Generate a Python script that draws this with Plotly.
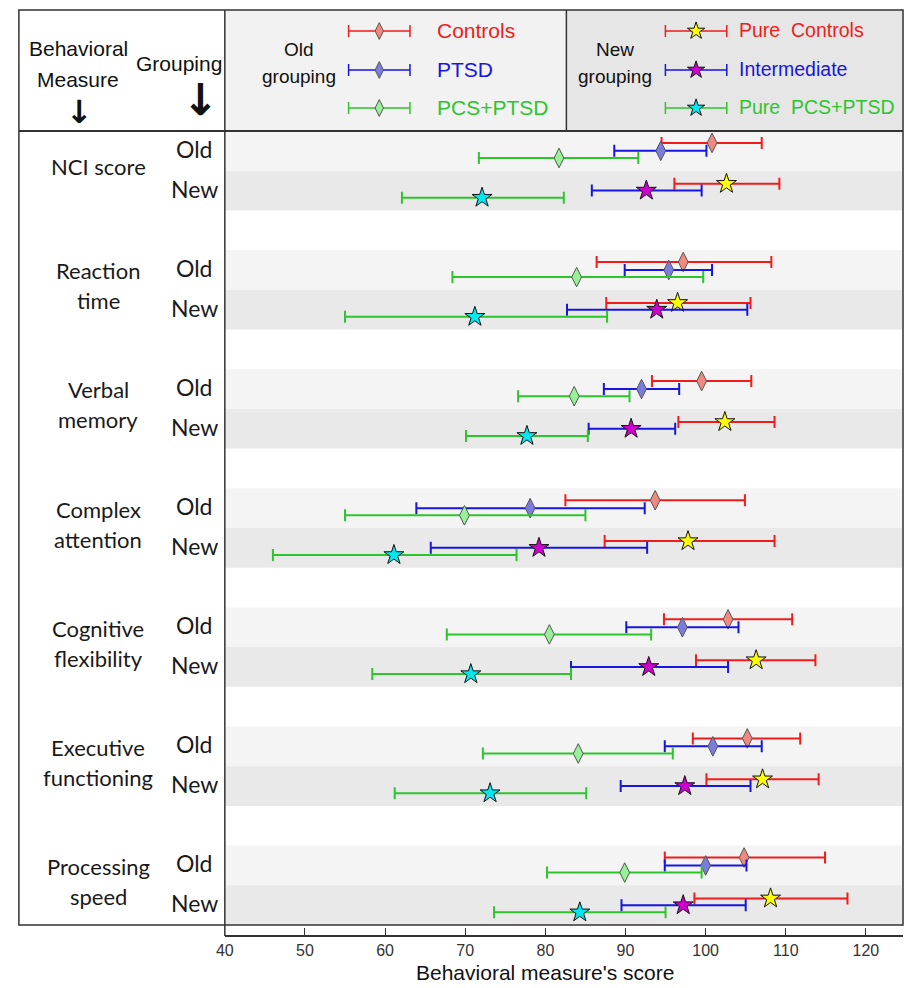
import plotly.graph_objects as go

W, H = 904, 988

# ---------------- data ----------------
measures = ["NCI score", "Reaction<br>time", "Verbal<br>memory", "Complex<br>attention",
            "Cognitive<br>flexibility", "Executive<br>functioning", "Processing<br>speed"]
groupings = ["Old", "New"]
tick_vals = [40, 50, 60, 70, 80, 90, 100, 110, 120]

controls_mean = [100.8, 97.2, 99.5, 93.7, 102.8, 105.2, 104.8]
controls_lo   = [94.5, 86.4, 93.3, 82.5, 94.8, 98.4, 94.9]
controls_hi   = [107.0, 108.2, 105.7, 104.9, 110.8, 111.8, 114.9]

ptsd_mean = [94.4, 95.4, 92.0, 78.1, 97.1, 100.9, 100.0]
ptsd_lo   = [88.6, 89.9, 87.3, 63.9, 90.1, 94.9, 94.9]
ptsd_hi   = [100.1, 100.8, 96.7, 92.4, 104.1, 107.0, 105.1]

pcs_mean = [81.7, 83.9, 83.6, 69.9, 80.5, 84.1, 89.9]
pcs_lo   = [71.7, 68.4, 76.6, 55.0, 67.7, 72.2, 80.2]
pcs_hi   = [91.6, 99.7, 90.5, 85.0, 93.2, 95.9, 99.5]

pure_controls_mean = [102.6, 96.5, 102.4, 97.8, 106.3, 107.1, 108.1]
pure_controls_lo   = [96.1, 87.6, 96.6, 87.4, 98.8, 100.1, 98.6]
pure_controls_hi   = [109.2, 105.6, 108.6, 108.6, 113.7, 114.1, 117.7]

intermediate_mean = [92.6, 93.9, 90.7, 79.2, 92.9, 97.4, 97.2]
intermediate_lo   = [85.8, 82.7, 85.4, 65.7, 83.2, 89.4, 89.5]
intermediate_hi   = [99.5, 105.2, 96.2, 92.7, 102.8, 105.6, 105.0]

pure_pcs_mean = [72.1, 71.2, 77.7, 61.1, 70.7, 73.1, 84.3]
pure_pcs_lo   = [62.1, 55.0, 70.1, 46.0, 58.4, 61.2, 73.6]
pure_pcs_hi   = [82.3, 87.7, 85.3, 76.4, 83.2, 85.1, 95.0]

# ---------------- styles ----------------
RED, BLUE, GREEN = "#f01c1c", "#1616e0", "#2ec42e"
series = [
    # name, mean, lo, hi, band(0 old / 1 new), offset, line colour, symbol, fill, outline
    ("Controls", controls_mean, controls_lo, controls_hi, 0, -0.2, RED, "diamond-tall", "#f08a80", "#555555"),
    ("PTSD", ptsd_mean, ptsd_lo, ptsd_hi, 0, 0.0, BLUE, "diamond-tall", "#7c7cdc", "#555555"),
    ("PCS+PTSD", pcs_mean, pcs_lo, pcs_hi, 0, 0.18, GREEN, "diamond-tall", "#98f098", "#555555"),
    ("Pure  Controls", pure_controls_mean, pure_controls_lo, pure_controls_hi, 1, -0.17, RED, "star", "#ffff00", "#111111"),
    ("Intermediate", intermediate_mean, intermediate_lo, intermediate_hi, 1, 0.0, BLUE, "star", "#d000d0", "#111111"),
    ("Pure  PCS+PTSD", pure_pcs_mean, pure_pcs_lo, pure_pcs_hi, 1, 0.18, GREEN, "star", "#00e8f0", "#111111"),
]


def px(x):
    return x / W


def py(y):
    return 1 - y / H


PLOT_L, PLOT_R, PLOT_T, PLOT_B = 218, 903, 131, 925
AXIS_Y = 936
n = len(measures)

fig = go.Figure()

for name, m, lo, hi, band, off, col, sym, fill, edge in series:
    ys = [3 * i + band + off for i in range(n)]
    fig.add_trace(go.Scatter(
        x=m, y=ys, mode="markers", name=name, showlegend=False, hoverinfo="skip",
        marker=dict(symbol=sym, size=15 if sym == "star" else 14, color=fill,
                    line=dict(color=edge, width=1)),
        error_x=dict(type="data", symmetric=False,
                     array=[h - c for h, c in zip(hi, m)],
                     arrayminus=[c - l for c, l in zip(m, lo)],
                     color=col, thickness=2, width=6),
    ))

# header legend samples on a pixel axis
leg_rows = [31, 70, 108]
for k, (name, m, lo, hi, band, off, col, sym, fill, edge) in enumerate(series):
    cx = 374 if band == 0 else 694
    fig.add_trace(go.Scatter(
        x=[cx], y=[leg_rows[k % 3]], xaxis="x2", yaxis="y2", mode="markers",
        showlegend=False, hoverinfo="skip",
        marker=dict(symbol=sym, size=13 if sym == "star" else 12, color=fill,
                    line=dict(color=edge, width=1)),
        error_x=dict(type="constant", value=31, color=col, thickness=1.5, width=6),
    ))

shapes = []
# bands
for i in range(n):
    for b, fc in ((0, "#f4f4f4"), (1, "#e9e9e9")):
        shapes.append(dict(type="rect", xref="paper", yref="y", x0=px(PLOT_L), x1=px(PLOT_R),
                           y0=3 * i + b - 0.5, y1=3 * i + b + 0.5, fillcolor=fc,
                           line=dict(width=0), layer="below"))
# header backgrounds
shapes.append(dict(type="rect", xref="paper", yref="paper", x0=px(PLOT_L), x1=px(563),
                   y0=py(131), y1=py(10), fillcolor="#f2f2f2", line=dict(width=0), layer="below"))
shapes.append(dict(type="rect", xref="paper", yref="paper", x0=px(563), x1=px(PLOT_R),
                   y0=py(131), y1=py(10), fillcolor="#e6e6e6", line=dict(width=0), layer="below"))
# frame lines
LC = "#333333"
shapes.append(dict(type="rect", xref="paper", yref="paper", x0=px(10), x1=px(PLOT_R),
                   y0=py(PLOT_B), y1=py(10), line=dict(color=LC, width=1.5)))
shapes.append(dict(type="line", xref="paper", yref="paper", x0=px(10), x1=px(PLOT_R),
                   y0=py(131), y1=py(131), line=dict(color=LC, width=2)))
shapes.append(dict(type="line", xref="paper", yref="paper", x0=px(PLOT_L), x1=px(PLOT_L),
                   y0=py(AXIS_Y), y1=py(10), line=dict(color=LC, width=1.5)))
shapes.append(dict(type="line", xref="paper", yref="paper", x0=px(563), x1=px(563),
                   y0=py(131), y1=py(10), line=dict(color=LC, width=1.5)))

ann = []
LEFT_FONT = "Lato, Carlito, Noto Sans, sans-serif"
HEAD_FONT = "Liberation Sans, Arial, sans-serif"
# measure labels
for i, lab in enumerate(measures):
    lines = lab.split("<br>")
    yc = 131 + (3 * i + 1) * 39.7 - 4
    if len(lines) == 1:
        pos = [yc]
    else:
        pos = [yc - 15, yc + 15]
    for t, yy in zip(lines, pos):
        ann.append(dict(text=t, x=px(90), y=py(yy), xref="paper", yref="paper",
                        showarrow=False, xanchor="center", yanchor="middle",
                        font=dict(family=LEFT_FONT, size=22, color="#1a1a1a")))
    for b, g in enumerate(groupings):
        ann.append(dict(text=g, x=px(187), y=py(131 + (3 * i + b + 0.5) * 39.7 - 2),
                        xref="paper", yref="paper", showarrow=False, xanchor="center",
                        yanchor="middle", font=dict(family=LEFT_FONT, size=23, color="#1a1a1a")))

# header texts
def head(text, x, y, size=17, color="#111111", anchor="center", family=HEAD_FONT):
    ann.append(dict(text=text, x=px(x), y=py(y), xref="paper", yref="paper", showarrow=False,
                    xanchor=anchor, yanchor="middle", font=dict(family=family, size=size, color=color)))

head("Behavioral", 70, 48, size=21)
head("Measure", 70, 80, size=21)
head("<b>↓</b>", 71, 112, size=32, family="DejaVu Sans")
head("Grouping", 172, 64, size=21)
head("<b>↓</b>", 193, 100, size=44, family="DejaVu Sans")
head("Old", 293, 50, size=19)
head("grouping", 293, 77, size=19)
head("New", 612, 50, size=19)
head("grouping", 612, 77, size=19)
for k, (name, m, lo, hi, band, off, col, sym, fill, edge) in enumerate(series):
    head(name.replace("  ", "&nbsp; "), 430 if band == 0 else 735, leg_rows[k % 3] - 1,
         size=21 if band == 0 else 19.5, color=col, anchor="left")

# axis title
head("Behavioral measure's score", 541, 972, size=21, color="#111111")

fig.update_layout(
    width=W, height=H, margin=dict(l=0, r=0, t=0, b=0),
    paper_bgcolor="white", plot_bgcolor="rgba(0,0,0,0)",
    xaxis=dict(domain=[px(PLOT_L), px(PLOT_R)], range=[40, 40 + (PLOT_R - PLOT_L) / 8.094],
               tickvals=tick_vals, ticks="inside", ticklen=7, tickcolor="#333333",
               showline=True, linecolor="#333333", linewidth=1.5,
               anchor="free", position=py(AXIS_Y), showgrid=False, zeroline=False,
               tickfont=dict(family="Liberation Sans Narrow, Liberation Sans, sans-serif",
                             size=16, color="#333333")),
    yaxis=dict(domain=[py(PLOT_B), py(PLOT_T)], range=[3 * n - 1 - 0.5, -0.5],
               showticklabels=False, showgrid=False, zeroline=False, ticks=""),
    xaxis2=dict(domain=[0, 1], range=[0, W], visible=False, anchor="y2"),
    yaxis2=dict(domain=[0, 1], range=[H, 0], visible=False, anchor="x2"),
    shapes=shapes, annotations=ann,
)

fig.write_html("out.html")

# remove the default page margin so the figure sits at the window's origin
with open("out.html", encoding="utf-8") as f:
    html = f.read()
html = html.replace("<body>", '<body style="margin:0;padding:0;overflow:hidden">', 1)
with open("out.html", "w", encoding="utf-8") as f:
    f.write(html)
